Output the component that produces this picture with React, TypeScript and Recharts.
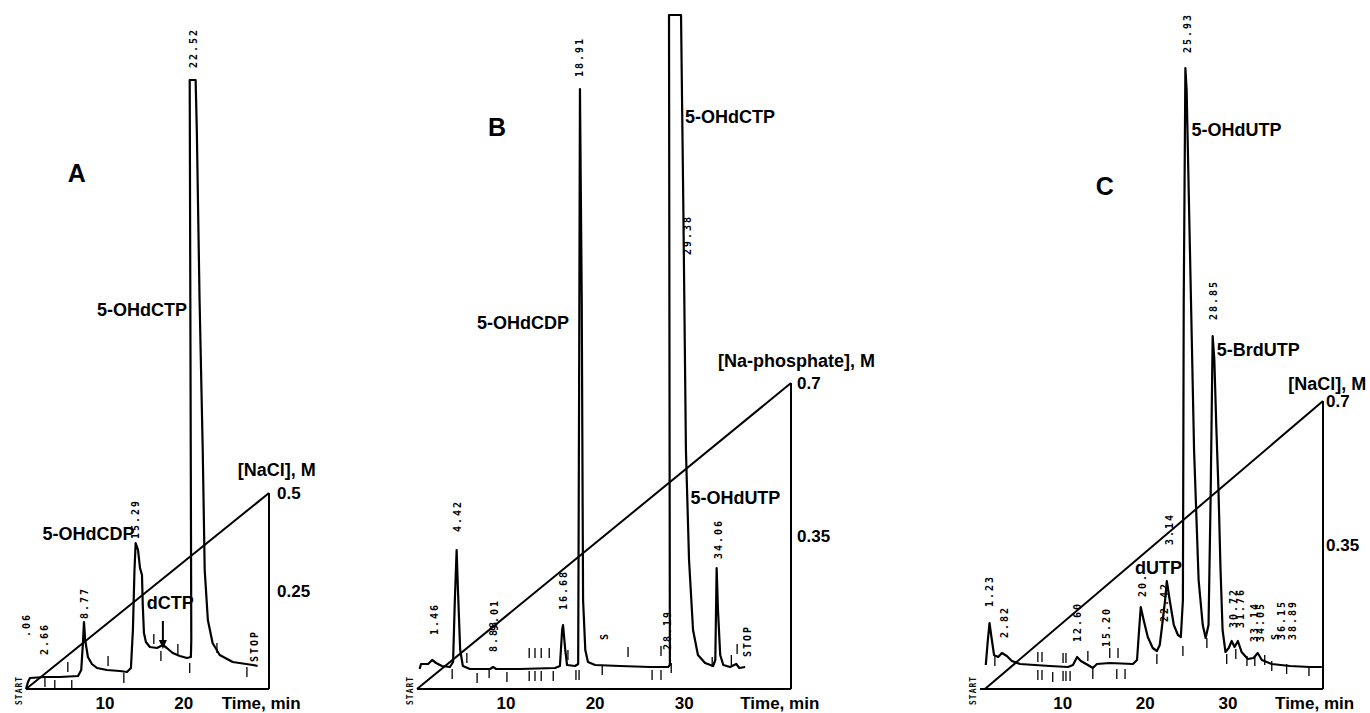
import React from 'react';
import { ComposedChart, Line, Scatter, XAxis, YAxis, ReferenceLine } from 'recharts';

type Pt = { t: number; v: number };
type Tag = { t: number; v: number; text: string };

const pts = (rows: number[][]): Pt[] => rows.map(([t, v]) => ({ t, v }));
const tags = (rows: [number, number, string][]): Tag[] => rows.map(([t, v, text]) => ({ t, v, text }));

const PAGE_W = 1370;
const PAGE_H = 713;
const PLOT_TOP = 10;
const PLOT_BOTTOM = 689;
const SIGNAL_MAX = PLOT_BOTTOM - PLOT_TOP; // detector response, arbitrary units

const SANS = '"Liberation Sans", Arial, Helvetica, sans-serif';
const MONO = '"DejaVu Sans Mono", "Liberation Mono", monospace';

// ---------- panel A : 5-OHdCTP, NaCl gradient ----------
const traceA = pts([
  [0, 0], [0.25, 7], [0.5, 11], [2.4, 12], [4.3, 12], [6.6, 13], [7.0, 19], [7.2, 44], [7.35, 67],
  [7.5, 49], [7.85, 32], [8.35, 25], [9.0, 21], [10.25, 19], [11.9, 18], [12.8, 17], [13.3, 21],
  [13.55, 59], [13.75, 119], [13.9, 146], [14.2, 139], [14.45, 121], [14.7, 114], [14.8, 84],
  [14.95, 56], [15.2, 47], [15.7, 42], [16.6, 41], [17.35, 44], [17.85, 41], [18.6, 36], [19.5, 33],
  [20.4, 31], [20.9, 32], [20.95, 49], [20.75, 609], [21.5, 609], [21.65, 559], [22.0, 389],
  [22.4, 239], [22.65, 119], [23.05, 69], [23.65, 46], [24.55, 34], [26.2, 27], [28.75, 24], [29.35, 23],
]);
const gradientA = [{ t: 0, g: 0 }, { t: 30.8, g: 0.5 }];
const peakTagsA = tags([
  [21.27, 621, '22.52'], [13.92, 150, '15.29'], [7.47, 70, '8.77'], [2.4, 34, '2.66'],
  [0, 52, '.06'], [29.0, 27, 'STOP'],
]);
const namesA = tags([[9.0, 379, '5-OHdCTP'], [2.1, 155, '5-OHdCDP'], [15.3, 86, 'dCTP']]);
const marksA = pts([
  [2.4, 7], [3.65, 4], [5.3, 22], [5.8, 4], [10.4, 28], [12.4, 11], [16.2, 50], [17.1, 33],
  [19.25, 40], [20.75, 21], [24.2, 41], [28.0, 17],
]);

// ---------- panel B : Na-phosphate gradient ----------
const traceB = pts([
  [0.3, 20], [0.45, 25], [1.25, 25], [1.7, 29], [2.15, 26], [2.8, 23], [3.7, 22], [4.05, 27], [4.25, 89],
  [4.45, 139], [4.6, 99], [4.85, 39], [5.15, 23], [5.95, 20], [8.2, 20], [8.55, 22], [8.9, 20],
  [11.55, 20], [15.5, 21], [16.05, 23], [16.3, 59], [16.4, 64], [16.65, 39], [16.85, 24], [17.75, 23],
  [18.1, 25], [18.2, 289], [18.3, 600], [18.5, 389], [18.65, 89], [18.9, 39], [19.2, 27], [20.0, 24],
  [22.8, 23], [26.2, 22], [28.2, 22], [28.4, 24], [28.3, 674], [29.65, 674], [29.9, 489], [30.2, 239],
  [30.55, 129], [31.0, 59], [31.55, 34], [32.35, 26], [33.25, 23], [33.5, 29], [33.65, 121],
  [33.8, 79], [34.05, 34], [34.4, 24], [35.15, 22], [35.85, 25], [36.2, 21], [36.85, 22],
]);
const gradientB = [{ t: 0, g: 0 }, { t: 42, g: 0.7 }];
const peakTagsB = tags([
  [18.2, 612, '18.91'], [30.35, 434, '29.38'], [4.5, 157, '4.42'], [2.0, 54, '1.46'],
  [16.4, 79, '16.68'], [8.55, 37, '8.88'], [8.65, 58, '9.01'], [21.1, 49, 'S'], [28.1, 39, '28.19'],
  [33.9, 130, '34.06'], [37.1, 32, 'STOP'],
]);
const namesB = tags([[6.75, 366, '5-OHdCDP'], [30.1, 572, '5-OHdCTP'], [30.7, 191, '5-OHdUTP']]);
const marksB = pts([
  [3.95, 15], [5.6, 31], [6.75, 11], [8.1, 16], [10.1, 12], [12.6, 36], [13.25, 36], [13.95, 36],
  [14.85, 36], [12.6, 13], [13.25, 13], [13.95, 13], [15.3, 13], [16.95, 34], [17.85, 14], [18.2, 14],
  [20.8, 19], [23.7, 37], [26.4, 14], [27.4, 14], [27.4, 38], [28.55, 21], [33.15, 27], [35.3, 29],
  [35.95, 40],
]);

// ---------- panel C : 5-OHdUTP / 5-BrdUTP, NaCl gradient ----------
const traceC = pts([
  [0.7, 24], [0.95, 49], [1.15, 66], [1.35, 54], [1.7, 34], [2.2, 32], [2.65, 36], [3.25, 33],
  [3.85, 28], [4.85, 25], [6.65, 24], [8.45, 23], [10.65, 22], [11.25, 24], [11.75, 32], [12.2, 28],
  [13.05, 24], [13.65, 21], [14.15, 25], [15.7, 26], [18.5, 25], [19.0, 29], [19.25, 59], [19.45, 82],
  [19.8, 69], [20.3, 52], [20.9, 41], [21.4, 38], [21.75, 44], [22.0, 61], [22.4, 89], [22.6, 108],
  [22.95, 89], [23.45, 64], [23.95, 54], [24.3, 52], [24.55, 89], [24.65, 389], [24.85, 621],
  [25.0, 599], [25.4, 439], [25.9, 239], [26.45, 109], [26.95, 64], [27.3, 51], [27.65, 64],
  [27.9, 189], [28.15, 353], [28.35, 330], [28.6, 260], [28.85, 200], [29.1, 120], [29.35, 59],
  [29.7, 37], [30.1, 41], [30.45, 48], [30.8, 42], [31.2, 48], [31.65, 37], [32.4, 30], [33.1, 31],
  [33.6, 36], [34.1, 29], [35.3, 25], [37.5, 23], [39.9, 22], [41.35, 22],
]);
const gradientC = [{ t: 0.6, g: 0 }, { t: 41.5, g: 0.7 }];
const peakTagsC = tags([
  [25.05, 636, '25.93'], [28.2, 369, '28.85'], [1.2, 82, '1.23'], [3.0, 51, '2.82'],
  [11.85, 47, '12.60'], [15.35, 42, '15.20'], [19.7, 92, '20.'], [22.3, 67, '22.42'],
  [22.9, 144, '3.14'], [30.7, 61, '30.72'], [31.55, 61, '31.76'], [33.25, 47, '33.14'],
  [33.95, 47, '34.05'], [35.7, 49, 'S'], [36.5, 49, '36.15'], [37.75, 49, '38.89'],
]);
const namesC = tags([[25.6, 559, '5-OHdUTP'], [28.65, 339, '5-BrdUTP'], [18.75, 121, 'dUTP']]);
const marksC = pts([
  [1.8, 28], [7.0, 32], [7.5, 32], [7.0, 14], [7.5, 14], [8.8, 12], [10.05, 31], [10.4, 31],
  [10.05, 13], [10.4, 13], [10.9, 13], [13.05, 33], [13.65, 15], [15.7, 36], [16.7, 36], [16.55, 15],
  [17.55, 15], [21.4, 30], [24.55, 38], [27.45, 46], [29.85, 30], [30.95, 35], [32.3, 28], [33.25, 28],
  [34.45, 29], [35.3, 23], [37.1, 20], [39.8, 18],
]);

// ---------- panel layout ----------
const panels = [
  {
    id: 'A', left: 26, right: 269, xMax: 30.8, xTicks: [10, 20], gradTop: 0.5, gradPx: 196,
    gradTicks: [0.25, 0.5], gradGap: 8, trace: traceA, gradient: gradientA, peakTags: peakTagsA,
    names: namesA, marks: marksA, letter: tags([[6.45, 516, 'A']]),
    gradLabel: tags([[26.85, 219, '[NaCl], M']]), axisTitle: tags([[24.8, 0, 'Time, min']]),
    arrows: pts([[17.35, 40]]),
  },
  {
    id: 'B', left: 417, right: 791, xMax: 42, xTicks: [10, 20, 30], gradTop: 0.7, gradPx: 306,
    gradTicks: [0.35, 0.7], gradGap: 6, trace: traceB, gradient: gradientB, peakTags: peakTagsB,
    names: namesB, marks: marksB, letter: tags([[9.0, 562, 'B']]),
    gradLabel: tags([[33.8, 328, '[Na-phosphate], M']]), axisTitle: tags([[36.3, 0, 'Time, min']]),
    arrows: [] as Pt[],
  },
  {
    id: 'C', left: 980, right: 1323, xMax: 41.5, xTicks: [10, 20, 30], gradTop: 0.7, gradPx: 288,
    gradTicks: [0.35, 0.7], gradGap: 3, trace: traceC, gradient: gradientC, peakTags: peakTagsC,
    names: namesC, marks: marksC, letter: tags([[15.1, 503, 'C']]),
    gradLabel: tags([[37.3, 305, '[NaCl], M']]), axisTitle: tags([[35.7, 0, 'Time, min']]),
    arrows: [] as Pt[],
  },
];

// ---------- shapes ----------
const PeakTag = (p: any) => (
  <text
    x={p.cx}
    y={p.cy}
    transform={`rotate(-90 ${p.cx} ${p.cy})`}
    dominantBaseline="central"
    fontFamily={MONO}
    fontSize={10}
    fontWeight={700}
    letterSpacing={2}
    fill="#000"
  >
    {p.payload.text}
  </text>
);

const NameTag = (p: any) => (
  <text x={p.cx} y={p.cy} dominantBaseline="central" fontFamily={SANS} fontSize={18} fontWeight={700} fill="#000">
    {p.payload.text}
  </text>
);

const LetterTag = (p: any) => (
  <text x={p.cx} y={p.cy} textAnchor="middle" dominantBaseline="central" fontFamily={SANS} fontSize={25} fontWeight={700} fill="#000">
    {p.payload.text}
  </text>
);

const AxisTitle = (p: any) => (
  <text x={p.cx} y={p.cy + 14} dominantBaseline="central" fontFamily={SANS} fontSize={17} fontWeight={700} fill="#000">
    {p.payload.text}
  </text>
);

const EventMark = (p: any) => (
  <line x1={p.cx} x2={p.cx} y1={p.cy - 5} y2={p.cy + 5} stroke="#000" strokeWidth={1.3} />
);

const Arrow = (p: any) => (
  <g>
    <line x1={p.cx} x2={p.cx} y1={p.cy - 28} y2={p.cy - 7} stroke="#000" strokeWidth={2} />
    <polygon points={`${p.cx - 4},${p.cy - 9} ${p.cx + 4},${p.cy - 9} ${p.cx},${p.cy}`} fill="#000" />
  </g>
);

const StartTag = (p: any) => (
  <text
    x={p.cx - 7}
    y={p.cy + 16}
    transform={`rotate(-90 ${p.cx - 7} ${p.cy + 16})`}
    dominantBaseline="central"
    fontFamily={MONO}
    fontSize={8}
    fontWeight={700}
    letterSpacing={1}
    fill="#111"
  >
    START
  </text>
);

const startPoint = tags([[0, 0, 'START']]);

const tickFont = { fill: '#000', fontFamily: SANS, fontWeight: 700, fontSize: 17 };

function Panel({ cfg }: { cfg: (typeof panels)[number] }) {
  const gMax = (cfg.gradTop * SIGNAL_MAX) / cfg.gradPx;
  return (
    <ComposedChart
      width={PAGE_W}
      height={PAGE_H}
      margin={{ top: PLOT_TOP, right: 0, bottom: 0, left: cfg.left }}
    >
      <XAxis
        dataKey="t"
        type="number"
        domain={[0, cfg.xMax]}
        ticks={cfg.xTicks}
        height={PAGE_H - PLOT_BOTTOM}
        axisLine={{ stroke: '#000', strokeWidth: 2 }}
        tickLine={false}
        tickSize={0}
        tickMargin={8}
        tick={tickFont}
      />
      <YAxis yAxisId="s" hide domain={[0, SIGNAL_MAX]} />
      <YAxis
        yAxisId="g"
        orientation="right"
        width={PAGE_W - cfg.right}
        domain={[0, gMax]}
        ticks={cfg.gradTicks}
        axisLine={false}
        tickLine={false}
        tickSize={0}
        tickMargin={cfg.gradGap}
        tick={tickFont}
      />
      <ReferenceLine
        yAxisId="g"
        segment={[{ x: cfg.xMax, y: 0 }, { x: cfg.xMax, y: cfg.gradTop }]}
        stroke="#000"
        strokeWidth={2}
      />
      <Line
        yAxisId="g"
        data={cfg.gradient}
        dataKey="g"
        type="linear"
        stroke="#000"
        strokeWidth={2}
        dot={false}
        activeDot={false}
        isAnimationActive={false}
      />
      <Line
        yAxisId="s"
        data={cfg.trace}
        dataKey="v"
        type="linear"
        stroke="#000"
        strokeWidth={2.2}
        strokeLinejoin="round"
        dot={false}
        activeDot={false}
        isAnimationActive={false}
      />
      <Scatter yAxisId="s" data={cfg.marks} dataKey="v" shape={EventMark} isAnimationActive={false} />
      <Scatter yAxisId="s" data={cfg.peakTags} dataKey="v" shape={PeakTag} isAnimationActive={false} />
      <Scatter yAxisId="s" data={cfg.names} dataKey="v" shape={NameTag} isAnimationActive={false} />
      <Scatter yAxisId="s" data={cfg.gradLabel} dataKey="v" shape={NameTag} isAnimationActive={false} />
      <Scatter yAxisId="s" data={cfg.letter} dataKey="v" shape={LetterTag} isAnimationActive={false} />
      <Scatter yAxisId="s" data={cfg.axisTitle} dataKey="v" shape={AxisTitle} isAnimationActive={false} />
      <Scatter yAxisId="s" data={cfg.arrows} dataKey="v" shape={Arrow} isAnimationActive={false} />
      <Scatter yAxisId="s" data={startPoint} dataKey="v" shape={StartTag} isAnimationActive={false} />
    </ComposedChart>
  );
}

export default function App() {
  return (
    <div style={{ position: 'absolute', left: 0, top: 0, width: PAGE_W, height: PAGE_H, background: '#fff' }}>
      {panels.map((cfg) => (
        <div key={cfg.id} style={{ position: 'absolute', left: 0, top: 0 }}>
          <Panel cfg={cfg} />
        </div>
      ))}
    </div>
  );
}
